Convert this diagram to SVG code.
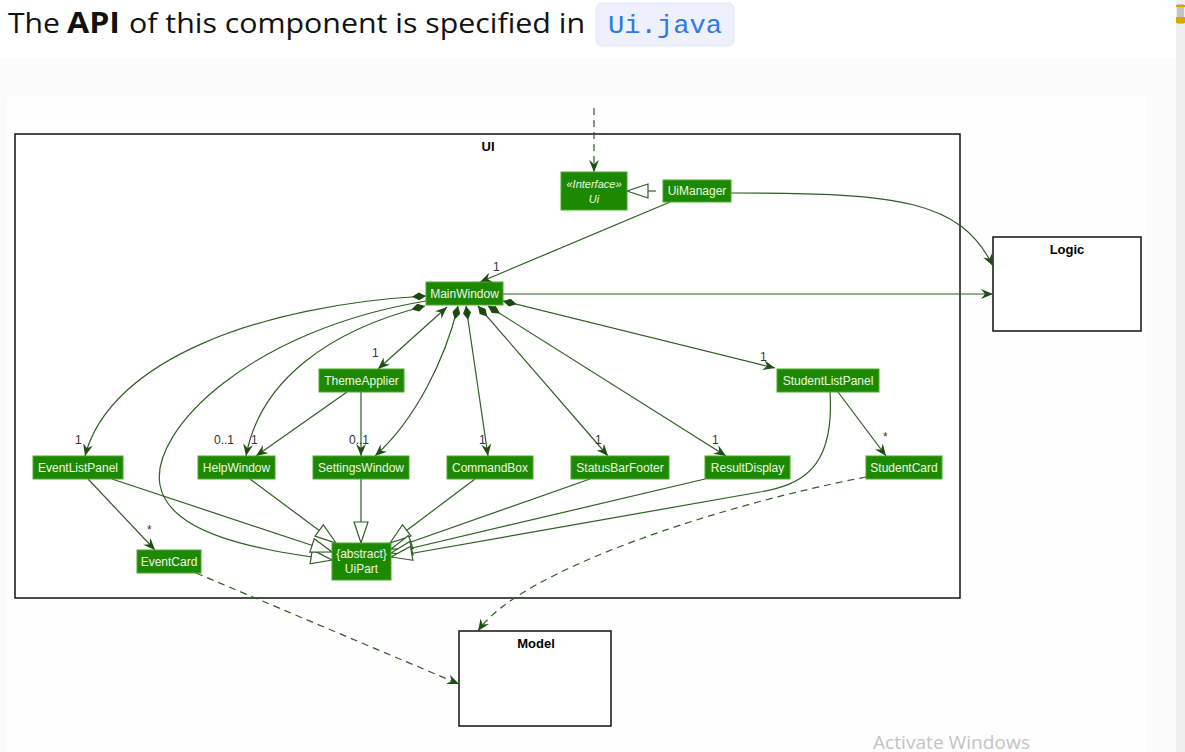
<svg xmlns="http://www.w3.org/2000/svg" width="1185" height="752" viewBox="0 0 1185 752">
<style>
.node rect{fill:#1D8900;stroke:#4fa830;stroke-width:1}
.node text{font-family:"Liberation Sans",Arial,sans-serif;font-size:12px;fill:#eef8ea;text-anchor:middle}
.node text.it{font-style:italic;font-size:11px}
.edge{fill:none;stroke:#2e5e22;stroke-width:1.2}
.dash{stroke-dasharray:7,5}
.lbl{font-family:"Liberation Sans",Arial,sans-serif;font-size:12px;fill:#333}
.pkg{fill:#fff;stroke:#111;stroke-width:1.5}
.pkgt{font-family:"Liberation Sans",Arial,sans-serif;font-size:13px;font-weight:bold;fill:#000;text-anchor:middle}
</style>
<defs>
<marker id="arr" viewBox="0 0 12 10" refX="12" refY="5" markerWidth="12" markerHeight="10" orient="auto-start-reverse" markerUnits="userSpaceOnUse"><path d="M0,0 L12,5 L0,10 L4,5 z" fill="#1f4f14"/></marker>
<marker id="dia" viewBox="0 0 14 8" refX="0" refY="4" markerWidth="14" markerHeight="8" orient="auto" markerUnits="userSpaceOnUse"><path d="M0,4 L7,0 L14,4 L7,8 z" fill="#1a4a10"/></marker>
<marker id="tri" viewBox="0 0 23 16" refX="22" refY="8" markerWidth="23" markerHeight="16" orient="auto" markerUnits="userSpaceOnUse"><path d="M1,1 L22,8 L1,15 z" fill="#fff" stroke="#2e5e22" stroke-width="1.2"/></marker>
</defs>
<rect x="0" y="0" width="1185" height="752" fill="#fff"/>
<rect x="0" y="58" width="1176" height="694" fill="#fbfbfb"/>
<rect x="7" y="97" width="1140" height="655" fill="#fefefe"/>
<rect x="1176" y="0" width="9" height="752" fill="#efefef"/>
<rect x="1177" y="4" width="7" height="20" fill="#c4c4c4"/>
<rect x="1176" y="5" width="9" height="2" fill="#d9a800"/>
<rect x="1176" y="17" width="9" height="6" fill="#d9a800"/>

<g id="title">
<text x="8" y="33" font-family="'Open Sans','Noto Sans',sans-serif" font-size="28" fill="#111" textLength="52" lengthAdjust="spacingAndGlyphs">The</text>
<text x="67" y="33" font-family="'Open Sans','Noto Sans',sans-serif" font-size="28" font-weight="bold" fill="#111" textLength="53" lengthAdjust="spacingAndGlyphs">API</text>
<text x="129" y="33" font-family="'Open Sans','Noto Sans',sans-serif" font-size="28" fill="#111" textLength="456" lengthAdjust="spacingAndGlyphs">of this component is specified in</text>
<rect x="596" y="3" width="138" height="43" rx="6" fill="#eef0fb" stroke="#e2e5f4"/>
<text x="608" y="33" font-family="'Liberation Mono','DejaVu Sans Mono',monospace" font-size="26" fill="#2f7ae0" textLength="114" lengthAdjust="spacingAndGlyphs">Ui.java</text>
</g>

<g id="UI">
<rect class="pkg" x="15" y="134" width="945" height="464"/>
<text class="pkgt" x="488" y="151" font-size="12">UI</text>
</g>
<g id="Logic">
<rect class="pkg" x="993" y="237" width="148" height="94"/>
<text class="pkgt" x="1067" y="254">Logic</text>
</g>
<g id="Model">
<rect class="pkg" x="459" y="631" width="152" height="95"/>
<text class="pkgt" x="536" y="648">Model</text>
</g>

<g id="connectors">
<path class="edge dash" d="M594,108 L594,172" marker-end="url(#arr)"/>
<path class="edge" d="M656,191 L627,191" marker-end="url(#tri)"/>
<path class="edge" d="M670,202 L480,282" marker-end="url(#arr)"/>
<path class="edge" d="M731,193 C900,193 960,200 993,266" marker-end="url(#arr)"/>
<path class="edge" d="M503,294 L993,294" marker-end="url(#arr)"/>
<path class="edge" d="M426,296 C260,305 110,360 85,456" marker-start="url(#dia)" marker-end="url(#arr)"/>
<path class="edge" d="M426,301 C250,330 150,430 160,485 C170,540 280,552 332,560" marker-end="url(#tri)"/>
<path class="edge" d="M425,306 C330,330 260,380 246,456" marker-start="url(#dia)" marker-end="url(#arr)"/>
<path class="edge" d="M447,307 L378,369" marker-start="url(#arr)" marker-end="url(#arr)"/>
<path class="edge" d="M458,306 C445,360 415,420 375,456" marker-start="url(#dia)" marker-end="url(#arr)"/>
<path class="edge" d="M466,306 L488,456" marker-start="url(#dia)" marker-end="url(#arr)"/>
<path class="edge" d="M478,306 L608,456" marker-start="url(#dia)" marker-end="url(#arr)"/>
<path class="edge" d="M488,306 L726,456" marker-start="url(#dia)" marker-end="url(#arr)"/>
<path class="edge" d="M503,301 L775,368" marker-start="url(#dia)" marker-end="url(#arr)"/>
<path class="edge" d="M347,392 L256,456" marker-end="url(#arr)"/>
<path class="edge" d="M361,392 L361,456" marker-end="url(#arr)"/>
<path class="edge" d="M838,392 L886,456" marker-end="url(#arr)"/>
<path class="edge" d="M88,479 L155,550" marker-end="url(#arr)"/>
<path class="edge" d="M112,479 L332,552" marker-end="url(#tri)"/>
<path class="edge" d="M250,479 L336,543" marker-end="url(#tri)"/>
<path class="edge" d="M361,479 L361,543" marker-end="url(#tri)"/>
<path class="edge" d="M475,479 L390,543" marker-end="url(#tri)"/>
<path class="edge" d="M590,479 L391,549" marker-end="url(#tri)"/>
<path class="edge" d="M705,479 L391,553" marker-end="url(#tri)"/>
<path class="edge" d="M830,392 C835,470 800,485 760,492 L391,557" marker-end="url(#tri)"/>
<path class="edge dash" d="M196,573 L459,684" marker-end="url(#arr)"/>
<path class="edge dash" d="M866,477 C720,505 520,570 478,631" marker-end="url(#arr)"/>
<text class="lbl" x="493" y="271">1</text>
<text class="lbl" x="372" y="357">1</text>
<text class="lbl" x="760" y="361">1</text>
<text class="lbl" x="75" y="444">1</text>
<text class="lbl" x="214" y="444">0..1</text>
<text class="lbl" x="251" y="444">1</text>
<text class="lbl" x="349" y="444">0..1</text>
<text class="lbl" x="479" y="444">1</text>
<text class="lbl" x="595" y="444">1</text>
<text class="lbl" x="712" y="444">1</text>
<text class="lbl" x="883" y="441">*</text>
<text class="lbl" x="147" y="534">*</text>
</g>

<g id="Ui" class="node"><rect x="561" y="172" width="66" height="38"/><text class="it" x="594" y="188">«Interface»</text><text class="it" x="594" y="203" font-size="12">Ui</text></g>
<g id="UiManager" class="node"><rect x="663" y="180" width="68" height="22"/><text x="697" y="195">UiManager</text></g>
<g id="MainWindow" class="node"><rect x="426" y="282" width="77" height="23"/><text x="464.5" y="298">MainWindow</text></g>
<g id="ThemeApplier" class="node"><rect x="319" y="369" width="85" height="23"/><text x="361.5" y="385">ThemeApplier</text></g>
<g id="StudentListPanel" class="node"><rect x="777" y="369" width="102" height="23"/><text x="828" y="385">StudentListPanel</text></g>
<g id="EventListPanel" class="node"><rect x="33" y="456" width="90" height="23"/><text x="78" y="472">EventListPanel</text></g>
<g id="HelpWindow" class="node"><rect x="198" y="456" width="77" height="23"/><text x="236.5" y="472">HelpWindow</text></g>
<g id="SettingsWindow" class="node"><rect x="313" y="456" width="96" height="23"/><text x="361" y="472">SettingsWindow</text></g>
<g id="CommandBox" class="node"><rect x="447" y="456" width="86" height="23"/><text x="490" y="472">CommandBox</text></g>
<g id="StatusBarFooter" class="node"><rect x="571" y="456" width="98" height="23"/><text x="620" y="472">StatusBarFooter</text></g>
<g id="ResultDisplay" class="node"><rect x="705" y="456" width="85" height="23"/><text x="747.5" y="472">ResultDisplay</text></g>
<g id="StudentCard" class="node"><rect x="866" y="456" width="76" height="23"/><text x="904" y="472">StudentCard</text></g>
<g id="EventCard" class="node"><rect x="137" y="550" width="64" height="23"/><text x="169" y="566">EventCard</text></g>
<g id="UiPart" class="node"><rect x="332" y="543" width="59" height="37"/><text x="361.5" y="558">{abstract}</text><text x="361.5" y="573">UiPart</text></g>

<text x="873" y="749" font-family="'Open Sans','Noto Sans',sans-serif" font-size="18" fill="#c4c4c4" textLength="157" lengthAdjust="spacingAndGlyphs">Activate Windows</text>
</svg>
